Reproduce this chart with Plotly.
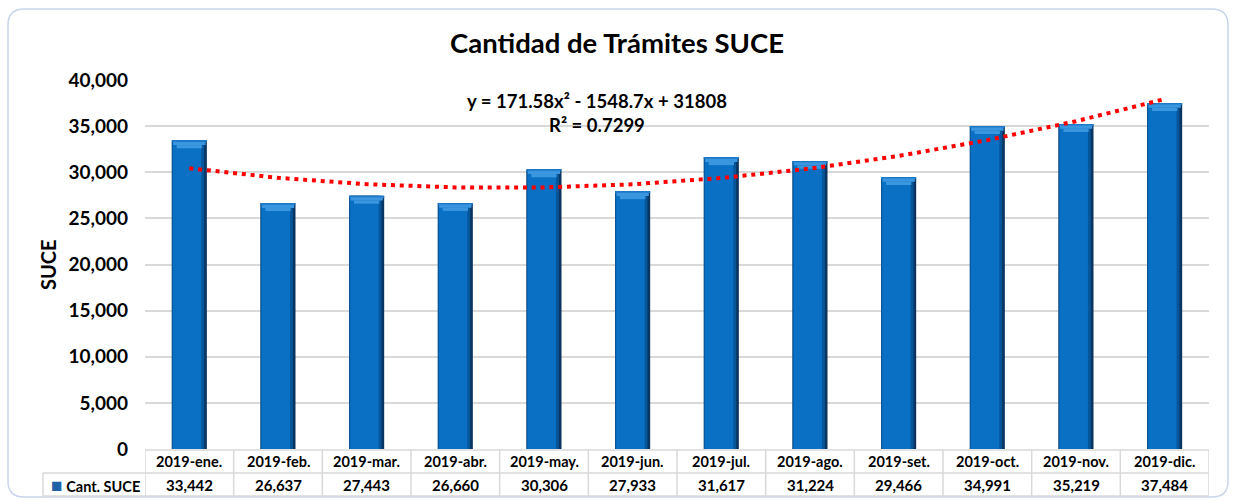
import numpy as np
import plotly.graph_objects as go

categories = ["2019-ene.", "2019-feb.", "2019-mar.", "2019-abr.", "2019-may.", "2019-jun.",
              "2019-jul.", "2019-ago.", "2019-set.", "2019-oct.", "2019-nov.", "2019-dic."]
suce_values = [33442, 26637, 27443, 26660, 30306, 27933, 31617, 31224, 29466, 34991, 35219, 37484]
series_name = "Cant. SUCE"
y_ticks = [0, 5000, 10000, 15000, 20000, 25000, 30000, 35000, 40000]

# polynomial (order 2) trendline fitted to the data, as in the source chart
xi = np.arange(1, len(suce_values) + 1)
coef = np.polyfit(xi, suce_values, 2)
trend = np.polyval(coef, xi)

W, H = 1233, 501
ML, MR, MT, MB = 43, 24, 80, 5
PW, PH = W - ML - MR, H - MT - MB


def px(x):
    return (x - ML) / PW


def py(y):
    return (H - MB - y) / PH


FONT = "Lato"
vals = np.array(suce_values, dtype=float)
n = len(categories)

fig = go.Figure()

BW = 0.395
# bevelled bar look, built from layered bars
fig.add_trace(go.Bar(x=categories, y=suce_values, width=BW, offset=-BW / 2,
                     marker=dict(color="#0A3560", line=dict(width=0)), hoverinfo="skip"))
fig.add_trace(go.Bar(x=categories, y=suce_values, width=BW - 0.03, offset=-BW / 2,
                     marker=dict(color="#08569A", line=dict(width=0)), hoverinfo="skip"))
fig.add_trace(go.Bar(x=categories, y=suce_values, width=BW - 0.075, offset=-BW / 2 + 0.012,
                     marker=dict(color="#0A70C4", line=dict(width=0)), hoverinfo="skip"))
fig.add_trace(go.Bar(x=categories, y=[150] * n, base=vals - 150,
                     width=BW, offset=-BW / 2,
                     marker=dict(color="#1E78C8", line=dict(width=0)), hoverinfo="skip"))
fig.add_trace(go.Bar(x=categories, y=[350] * n, base=vals - 500,
                     width=BW - 0.03, offset=-BW / 2 + 0.015,
                     marker=dict(color="#3A96DF", line=dict(width=0)), hoverinfo="skip"))
fig.add_trace(go.Bar(x=categories, y=[350] * n, base=vals - 850,
                     width=BW - 0.11, offset=-BW / 2 + 0.055,
                     marker=dict(color="#3A96DF", line=dict(width=0)), hoverinfo="skip"))

fig.add_trace(go.Scatter(x=categories, y=trend, mode="lines",
                         line=dict(color="#FF0000", width=4, dash="4px,4.8px"),
                         hoverinfo="skip"))

# ---- data table under the chart (text as annotations, grid as shapes) ----
TBL_TOP, TBL_MID, TBL_BOT = 450, 473, 496
GRID = dict(color="#D9D9D9", width=1.5)
shapes = []
# horizontal lines
shapes.append(dict(type="line", xref="x", yref="paper", x0=-0.5, x1=n - 0.5,
                   y0=py(TBL_TOP), y1=py(TBL_TOP), line=GRID))
for yy in (TBL_MID, TBL_BOT):
    shapes.append(dict(type="line", xref="paper", yref="paper", x0=0, x1=1,
                       y0=py(yy), y1=py(yy), line=GRID))
# vertical lines
for i in range(n + 1):
    shapes.append(dict(type="line", xref="x", yref="paper", x0=i - 0.5, x1=i - 0.5,
                       y0=py(TBL_TOP), y1=py(TBL_BOT), line=GRID))
shapes.append(dict(type="line", xref="paper", yref="paper", x0=0, x1=0,
                   y0=py(TBL_MID), y1=py(TBL_BOT), line=GRID))

annotations = []
for c, v in zip(categories, suce_values):
    annotations.append(dict(text="<b>%s</b>" % c, xref="x", yref="paper", x=c,
                            y=py((TBL_TOP + TBL_MID) / 2), xanchor="center", yanchor="middle",
                            showarrow=False, font=dict(family=FONT, size=14.5, color="#000000")))
    annotations.append(dict(text="<b>{:,}</b>".format(v), xref="x", yref="paper", x=c,
                            y=py((TBL_MID + TBL_BOT) / 2), xanchor="center", yanchor="middle",
                            showarrow=False, font=dict(family=FONT, size=15, color="#000000")))
annotations.append(dict(text="<span style='color:#1F62A8;font-size:19px'>■</span> <b>%s</b>" % series_name,
                        xref="paper", yref="paper", x=px(49), y=py((TBL_MID + TBL_BOT) / 2),
                        xanchor="left", yanchor="middle", showarrow=False,
                        font=dict(family=FONT, size=14.5, color="#000000")))

# outer rounded border
x0, y0, x1, y1, r = 8, 9, 1228, 497, 16
path = (f"M {px(x0 + r)},{py(y0)} L {px(x1 - r)},{py(y0)} Q {px(x1)},{py(y0)} {px(x1)},{py(y0 + r)} "
        f"L {px(x1)},{py(y1 - r)} Q {px(x1)},{py(y1)} {px(x1 - r)},{py(y1)} "
        f"L {px(x0 + r)},{py(y1)} Q {px(x0)},{py(y1)} {px(x0)},{py(y1 - r)} "
        f"L {px(x0)},{py(y0 + r)} Q {px(x0)},{py(y0)} {px(x0 + r)},{py(y0)} Z")
shapes.append(dict(type="path", xref="paper", yref="paper", path=path,
                   line=dict(color="#C9D5EA", width=1.5), fillcolor="rgba(0,0,0,0)", layer="below"))

annotations += [
    dict(text="<b>Cantidad de Trámites SUCE</b>", xref="paper", yref="paper",
         x=px(617), y=py(42), xanchor="center", yanchor="middle", showarrow=False,
         font=dict(family=FONT, size=27.5, color="#000000")),
    dict(text="<b>SUCE</b>", xref="paper", yref="paper", textangle=-90,
         x=px(48), y=py(265), xanchor="center", yanchor="middle", showarrow=False,
         font=dict(family=FONT, size=20, color="#000000")),
    dict(text="<b>y = 171.58x² - 1548.7x + 31808<br>R² = 0.7299</b>", xref="paper", yref="paper",
         x=px(597), y=py(113), xanchor="center", yanchor="middle", showarrow=False,
         align="center", font=dict(family=FONT, size=18.5, color="#000000")),
]

fig.update_layout(
    width=W, height=H,
    margin=dict(l=ML, r=MR, t=MT, b=MB, autoexpand=False),
    paper_bgcolor="white", plot_bgcolor="white",
    barmode="overlay", showlegend=False,
    font=dict(family=FONT, color="#000000"),
    xaxis=dict(domain=[px(145), 1], range=[-0.5, n - 0.5], showticklabels=False, showgrid=False,
               automargin=False, zeroline=False, showline=False, ticks=""),
    yaxis=dict(domain=[py(449), 1], range=[0, 40000], tickvals=y_ticks, automargin=False,
               tickformat=",d", showgrid=True, gridcolor="#D9D9D9", gridwidth=1.5,
               zeroline=False, showline=False, ticks="", ticklabelstandoff=16,
               tickfont=dict(family=FONT, size=19, color="#000000", weight="bold")),
    shapes=shapes,
    annotations=annotations,
)

fig.write_html("out.html", config={"displayModeBar": False},
               post_script="document.body.style.margin='0';document.body.style.overflow='hidden';")
